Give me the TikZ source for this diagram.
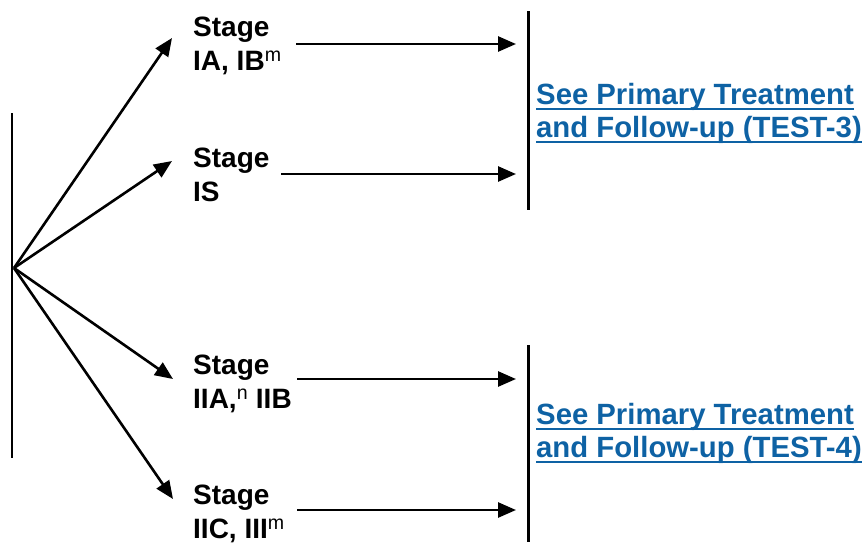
\documentclass[tikz,border=0pt]{standalone}
\usepackage{fontspec}
\setmainfont{Liberation Sans}
\usetikzlibrary{arrows.meta,calc}
\definecolor{linkblue}{RGB}{14,98,164}
\newcommand\linkul[1]{\setbox0\hbox{#1}\rlap{\rule[-5.5pt]{\wd0}{2pt}}\box0}
\tikzset{
  stagebox/.style={anchor=north west, inner sep=0pt, align=left, font=\bfseries\fontsize{28}{34}\selectfont},
  linkbox/.style={anchor=north west, inner sep=0pt, align=left, text=linkblue, font=\bfseries\fontsize{29.3}{33}\selectfont},
  arr/.style={line width=2.6pt, -{Triangle[length=18pt,width=15pt]}},
  bar/.style={line width=3pt},
}
\begin{document}
\begin{tikzpicture}[x=1pt,y=-1pt]
\useasboundingbox (0,0) rectangle (864,542);
% left bar and fan origin
\coordinate (lb1) at (12,113);
\coordinate (lb2) at (12,458);
\draw[line width=2.6pt] (lb1) -- (lb2);
\coordinate (o) at (14,268);
% stage nodes
\node[stagebox] (s1) at (193,17) {Stage\\IA, IB\textsuperscript{\mdseries m}};
\node[stagebox] (s2) at (193,148) {Stage\\IS};
\node[stagebox] (s3) at (193,355) {Stage\\IIA,\textsuperscript{\mdseries n} IIB};
\node[stagebox] (s4) at (193,485) {Stage\\IIC, III\textsuperscript{\mdseries m}};
% fan arrows
\coordinate (t1) at (172,38);
\coordinate (t2) at (172,161);
\coordinate (t3) at (173,379);
\coordinate (t4) at (173,499);
\draw[arr] (o) -- (t1);
\draw[arr] (o) -- (t2);
\draw[arr] (o) -- (t3);
\draw[arr] (o) -- (t4);
% right bars
\coordinate (b1a) at (528,11);
\coordinate (b1b) at (528,210);
\coordinate (b2a) at (528,345);
\coordinate (b2b) at (528,542);
\draw[bar] (b1a) -- (b1b);
\draw[bar] (b2a) -- (b2b);
% horizontal arrows
\coordinate (h1) at (296,44);
\coordinate (h2) at (281,174);
\coordinate (h3) at (297,379);
\coordinate (h4) at (297,510);
\draw[arr] (h1) -- ($(h1 -| b1a)+(-12,0)$);
\draw[arr] (h2) -- ($(h2 -| b1a)+(-12,0)$);
\draw[arr] (h3) -- ($(h3 -| b2a)+(-12,0)$);
\draw[arr] (h4) -- ($(h4 -| b2a)+(-12,0)$);
% links
\node[linkbox] (l1) at (536,83) {\linkul{See Primary Treatment}\\\linkul{and Follow-up (TEST-3)}};
\node[linkbox] (l2) at (536,403) {\linkul{See Primary Treatment}\\\linkul{and Follow-up (TEST-4)}};
\end{tikzpicture}
\end{document}
